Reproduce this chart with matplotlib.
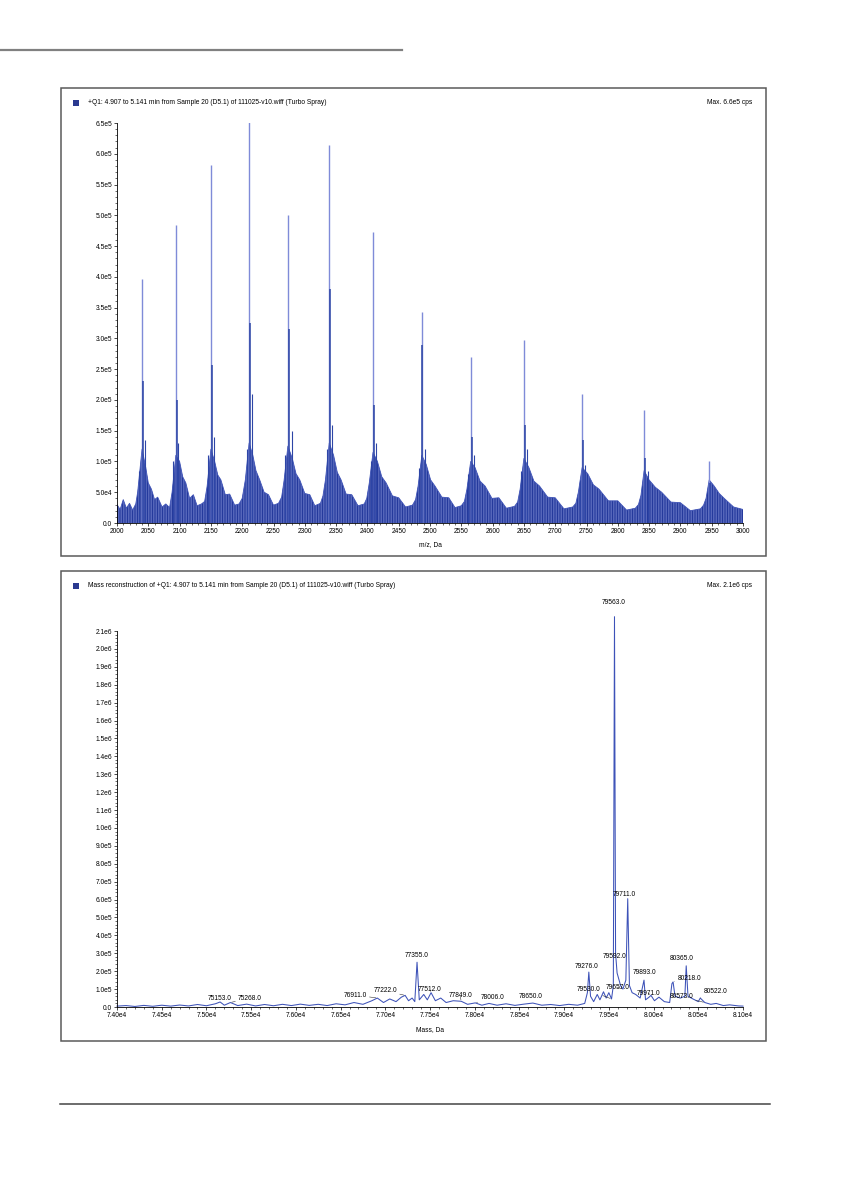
import matplotlib
matplotlib.use("Agg")
import matplotlib.pyplot as plt
import numpy as np
from matplotlib.patches import Rectangle
from matplotlib.lines import Line2D
from matplotlib.ticker import MultipleLocator, FuncFormatter

plt.rcParams['font.family'] = ['Liberation Sans', 'DejaVu Sans']
plt.rcParams['hatch.linewidth'] = 0.7

W, H = 841, 1187
BLUE = "#2d45a6"
LIGHT = "#7f8bd8"
FS = 4.8

# --- panel 1: Q1 spectrum (m/z, intensity) ---
mz_main = [2040, 2094, 2150, 2211, 2273, 2339, 2409, 2487, 2565, 2650, 2743, 2842, 2946]
int_main = [3.97e5, 4.84e5, 5.82e5, 6.58e5, 5.00e5, 6.14e5, 4.73e5, 3.43e5, 2.70e5, 2.97e5, 2.10e5, 1.84e5, 1.00e5]
mz_sat = [2041, 2096, 2151, 2212, 2275, 2340, 2411, 2488, 2567, 2652, 2745, 2844, 2948]
int_sat = [2.30e5, 2.00e5, 2.57e5, 3.25e5, 3.15e5, 3.80e5, 1.92e5, 2.90e5, 1.40e5, 1.60e5, 1.35e5, 1.05e5, 6.5e4]
mz_minor = [2035, 2044, 2090, 2098, 2146, 2155, 2207, 2216, 2269, 2279, 2335, 2344, 2405, 2414, 2483, 2492,
            2561, 2570, 2646, 2655, 2740, 2748, 2839, 2848]
int_minor = [8.5e4, 1.35e5, 1.0e5, 1.3e5, 1.1e5, 1.4e5, 1.2e5, 2.1e5, 1.1e5, 1.5e5, 1.2e5, 1.6e5, 1.0e5, 1.3e5, 9.0e4, 1.2e5,
             8.0e4, 1.1e5, 8.5e4, 1.2e5, 7.0e4, 9.5e4, 6.0e4, 8.5e4]

band_mz = [2000, 2005, 2010, 2015, 2020, 2025, 2030, 2033, 2036, 2040, 2046, 2050, 2055, 2060, 2065, 2072,
           2078, 2084, 2088, 2094, 2100, 2105, 2110, 2116, 2122, 2128, 2135, 2140, 2144, 2150, 2156, 2161,
           2166, 2173, 2180, 2188, 2195, 2200, 2205, 2211, 2217, 2222, 2228, 2235, 2242, 2250, 2258, 2263,
           2267, 2273, 2280, 2286, 2292, 2300, 2308, 2316, 2325, 2329, 2333, 2339, 2346, 2352, 2358, 2366,
           2375, 2385, 2395, 2399, 2403, 2409, 2416, 2423, 2430, 2440, 2450, 2461, 2472, 2477, 2481, 2487,
           2494, 2501, 2508, 2519, 2530, 2540, 2550, 2555, 2559, 2565, 2572, 2580, 2588, 2599, 2610, 2622,
           2635, 2640, 2644, 2650, 2658, 2666, 2675, 2688, 2700, 2714, 2728, 2733, 2737, 2743, 2752, 2761,
           2770, 2785, 2800, 2814, 2828, 2833, 2837, 2842, 2850, 2860, 2870, 2885, 2900, 2916, 2932, 2937,
           2941, 2946, 2954, 2962, 2970, 2985, 3000]
band_hi = [3.0e4, 2.2e4, 3.8e4, 2.4e4, 3.2e4, 2.1e4, 3.1e4, 5.0e4, 8.0e4, 1.2e5, 9.0e4, 6.5e4, 5.5e4, 3.8e4, 4.2e4, 2.6e4,
           3.1e4, 2.5e4, 5.0e4, 1.1e5, 1.0e5, 7.5e4, 6.5e4, 4.0e4, 4.6e4, 2.8e4, 3.1e4, 3.5e4, 6.0e4, 1.2e5, 1.0e5, 7.8e4,
           7.0e4, 4.6e4, 4.7e4, 2.9e4, 3.1e4, 4.0e4, 7.0e4, 1.3e5, 1.1e5, 8.5e4, 7.0e4, 5.0e4, 4.6e4, 2.9e4, 3.2e4, 4.2e4,
           7.0e4, 1.25e5, 1.05e5, 8.0e4, 7.0e4, 4.8e4, 4.6e4, 2.8e4, 3.2e4, 4.4e4, 7.0e4, 1.3e5, 1.1e5, 8.2e4, 7.0e4, 4.7e4,
           4.6e4, 2.8e4, 3.1e4, 4.0e4, 6.5e4, 1.15e5, 1.0e5, 7.5e4, 6.5e4, 4.4e4, 4.1e4, 2.6e4, 2.9e4, 3.8e4, 6.0e4, 1.1e5,
           9.5e4, 7.0e4, 6.0e4, 4.2e4, 4.1e4, 2.5e4, 2.8e4, 3.5e4, 5.5e4, 1.0e5, 9.0e4, 6.8e4, 6.0e4, 4.0e4, 4.1e4, 2.4e4,
           2.7e4, 3.4e4, 5.5e4, 1.05e5, 9.0e4, 6.8e4, 6.0e4, 4.2e4, 4.1e4, 2.3e4, 2.6e4, 3.2e4, 5.0e4, 9.0e4, 8.0e4, 6.2e4,
           5.5e4, 3.6e4, 3.6e4, 2.1e4, 2.4e4, 3.0e4, 4.5e4, 8.5e4, 7.0e4, 5.8e4, 5.0e4, 3.4e4, 3.3e4, 2.0e4, 2.3e4, 2.9e4,
           4.0e4, 7.0e4, 6.0e4, 4.8e4, 4.0e4, 2.6e4, 2.2e4]

# --- panel 2: reconstructed mass profile ---
mass2 = [74000, 74100, 74200, 74300, 74400, 74500, 74600, 74700, 74800, 74900, 75000, 75100, 75153,
         75200, 75268, 75350, 75450, 75550, 75650, 75750, 75850, 75950, 76050, 76150, 76250, 76350,
         76450, 76550, 76650, 76750, 76850, 76911, 76980, 77050, 77120, 77180, 77222, 77260, 77300,
         77330, 77355, 77380, 77430, 77470, 77512, 77560, 77620, 77680, 77760, 77849, 77920, 78006,
         78080, 78160, 78250, 78350, 78450, 78550, 78650, 78750, 78850, 78950, 79050, 79150, 79230,
         79260, 79276, 79295, 79330, 79370, 79400, 79440, 79470, 79500, 79530, 79550, 79563, 79575,
         79592, 79620, 79630, 79657, 79690, 79711, 79730, 79760, 79800, 79850, 79893, 79910, 79950,
         79971, 80010, 80060, 80120, 80180, 80205, 80218, 80240, 80300, 80350, 80365, 80385, 80440,
         80500, 80522, 80573, 80640, 80700, 80780, 80850, 80950, 81000]
int2 = [0.5e4, 0.8e4, 0.3e4, 0.9e4, 0.4e4, 1.0e4, 0.5e4, 1.1e4, 0.6e4, 1.4e4, 0.7e4, 1.8e4, 2.8e4,
        1.0e4, 2.5e4, 0.8e4, 1.6e4, 0.6e4, 1.4e4, 0.7e4, 1.5e4, 0.8e4, 1.6e4, 0.9e4, 1.5e4, 0.8e4,
        1.8e4, 1.2e4, 2.5e4, 1.5e4, 3.5e4, 5.0e4, 2.5e4, 4.5e4, 3.0e4, 5.5e4, 6.5e4, 3.5e4, 5.0e4,
        3.0e4, 2.5e5, 4.0e4, 7.0e4, 4.0e4, 8.0e4, 3.5e4, 5.0e4, 2.5e4, 3.5e4, 3.2e4, 1.5e4, 2.3e4,
        1.0e4, 2.0e4, 1.0e4, 1.8e4, 0.9e4, 1.6e4, 2.2e4, 1.0e4, 1.4e4, 0.8e4, 1.5e4, 1.0e4, 2.0e4,
        8.0e4, 1.95e5, 6.0e4, 3.0e4, 7.0e4, 4.0e4, 8.5e4, 5.0e4, 8.0e4, 4.5e4, 1.2e5, 2.18e6, 3.0e5,
        1.9e5, 1.4e5, 1.2e5, 1.0e5, 1.5e5, 6.05e5, 1.2e5, 8.0e4, 7.0e4, 5.0e4, 1.5e5, 4.0e4, 5.5e4,
        6.5e4, 3.5e4, 5.5e4, 3.0e4, 2.5e4, 1.3e5, 1.4e5, 6.0e4, 5.0e4, 6.0e4, 2.3e5, 6.0e4, 4.5e4,
        3.0e4, 5.0e4, 2.5e4, 1.5e4, 2.0e4, 0.8e4, 1.2e4, 0.6e4, 0.5e4]

label_mass = [79563, 79711, 79592, 79276, 79530, 79657, 79893, 79971, 80365, 80218, 80573, 80522,
              77355, 77512, 77222, 76911, 75153, 75268, 77849, 78006, 78650]
# text centre for each label (mass, intensity) in axis units
label_xy = [(79559, 2.26e6), (79671, 6.3e5), (79559, 2.8e5), (79246, 2.24e5), (79268, 9.5e4),
            (79593, 1.1e5), (79895, 1.9e5), (79940, 7.8e4), (80309, 2.7e5), (80398, 1.6e5),
            (80309, 5.6e4), (80689, 8.4e4), (77356, 2.9e5), (77501, 9.5e4), (76998, 9.0e4),
            (76662, 6.7e4), (75152, 5.0e4), (75488, 5.0e4), (77837, 6.2e4), (78195, 5.2e4),
            (78620, 5.6e4)]
leader = [False, False, False, False, True, True, False, True, False, True, True, True,
          False, True, True, True, False, True, True, True, False]


def sci(v, pos=None):
    if v == 0:
        return "0.0"
    e = int(np.floor(np.log10(abs(v)) + 1e-9))
    return f"{v / 10 ** e:.1f}e{e}"


def fx(x0, x1):
    return x0 / W, (x1 - x0) / W


def fy(top, bottom):
    return 1 - bottom / H, (bottom - top) / H


def style_axes(ax):
    for s in ["top", "right"]:
        ax.spines[s].set_visible(False)
    for s in ["left", "bottom"]:
        ax.spines[s].set_linewidth(0.6)
    ax.tick_params(which="major", length=2.2, width=0.5, labelsize=FS, pad=1.2, direction="out")
    ax.tick_params(which="minor", length=1.2, width=0.4, direction="out")
    ax.patch.set_alpha(0)


fig = plt.figure(figsize=(W / 100, H / 100), dpi=100)

# page rules
fig.add_artist(Line2D([0, 402 / W], [1 - 50 / H] * 2, color="#808080", lw=1.6))
fig.add_artist(Line2D([60 / W, 770 / W], [1 - 1104 / H] * 2, color="#444444", lw=1.1))

# panel frames, titles
for top, bot, title, mx in [(88, 556, "+Q1: 4.907 to 5.141 min from Sample 20 (D5.1) of 111025-v10.wiff (Turbo Spray)", "Max. 6.6e5 cps"),
                            (571, 1041, "Mass reconstruction of +Q1: 4.907 to 5.141 min from Sample 20 (D5.1) of 111025-v10.wiff (Turbo Spray)", "Max. 2.1e6 cps")]:
    fig.add_artist(Rectangle((61 / W, 1 - bot / H), (766 - 61) / W, (bot - top) / H,
                             fill=False, edgecolor="#5a5a5a", lw=1.1))
    ty = top + 15
    fig.add_artist(Rectangle((73 / W, 1 - (ty + 3) / H), 6 / W, 6 / H, color="#2b3990", lw=0))
    fig.text(88 / W, 1 - ty / H, title, fontsize=FS, va="center", ha="left")
    fig.text(752 / W, 1 - ty / H, mx, fontsize=FS, va="center", ha="right")

# panel 1
l, w = fx(117, 743)
b, h = fy(123, 523)
ax1 = fig.add_axes([l, b, w, h])
ax1.fill_between(band_mz, 0, band_hi, facecolor="#6d7cc9", edgecolor="#23389b",
                 hatch="||||||||||", lw=0.0)
ax1.plot(band_mz, band_hi, color="#4256b8", lw=0.6)
ax1.vlines(mz_main, 0, int_main, color=LIGHT, lw=1.0)
ax1.vlines(mz_sat, 0, int_sat, color=BLUE, lw=1.1)
ax1.vlines(mz_minor, 0, int_minor, color=BLUE, lw=0.8)
ax1.set_xlim(2000, 3000)
ax1.set_ylim(0, 6.5e5)
ax1.xaxis.set_major_locator(MultipleLocator(50))
ax1.xaxis.set_minor_locator(MultipleLocator(10))
ax1.yaxis.set_major_locator(MultipleLocator(5e4))
ax1.yaxis.set_minor_locator(MultipleLocator(1e4))
ax1.yaxis.set_major_formatter(FuncFormatter(sci))
style_axes(ax1)
fig.text(430 / W, 1 - 545 / H, "m/z, Da", fontsize=FS, ha="center", va="center")

# panel 2
b, h = fy(631, 1007)
ax2 = fig.add_axes([l, b, w, h])
ax2.plot(mass2, int2, color="#3d52b8", lw=0.75, clip_on=False)
peak = dict(zip(mass2, int2))
for m, (tx, ty), ld in zip(label_mass, label_xy, leader):
    if ld:
        ax2.annotate(f"{m:.1f}", xy=(m, peak[m]), xytext=(tx, ty), fontsize=FS,
                     ha="center", va="center", annotation_clip=False,
                     arrowprops=dict(arrowstyle="-", lw=0.4, color="#333333", shrinkA=0, shrinkB=1))
    else:
        ax2.text(tx, ty, f"{m:.1f}", fontsize=FS, ha="center", va="center", clip_on=False)
ax2.set_xlim(74000, 81000)
ax2.set_ylim(0, 2.1e6)
ax2.xaxis.set_major_locator(MultipleLocator(500))
ax2.xaxis.set_minor_locator(MultipleLocator(100))
ax2.xaxis.set_major_formatter(FuncFormatter(lambda v, p: f"{v / 1e4:.2f}e4"))
ax2.yaxis.set_major_locator(MultipleLocator(1e5))
ax2.yaxis.set_minor_locator(MultipleLocator(2e4))
ax2.yaxis.set_major_formatter(FuncFormatter(sci))
style_axes(ax2)
fig.text(430 / W, 1 - 1030 / H, "Mass, Da", fontsize=FS, ha="center", va="center")

plt.savefig("out.png", dpi=100)
